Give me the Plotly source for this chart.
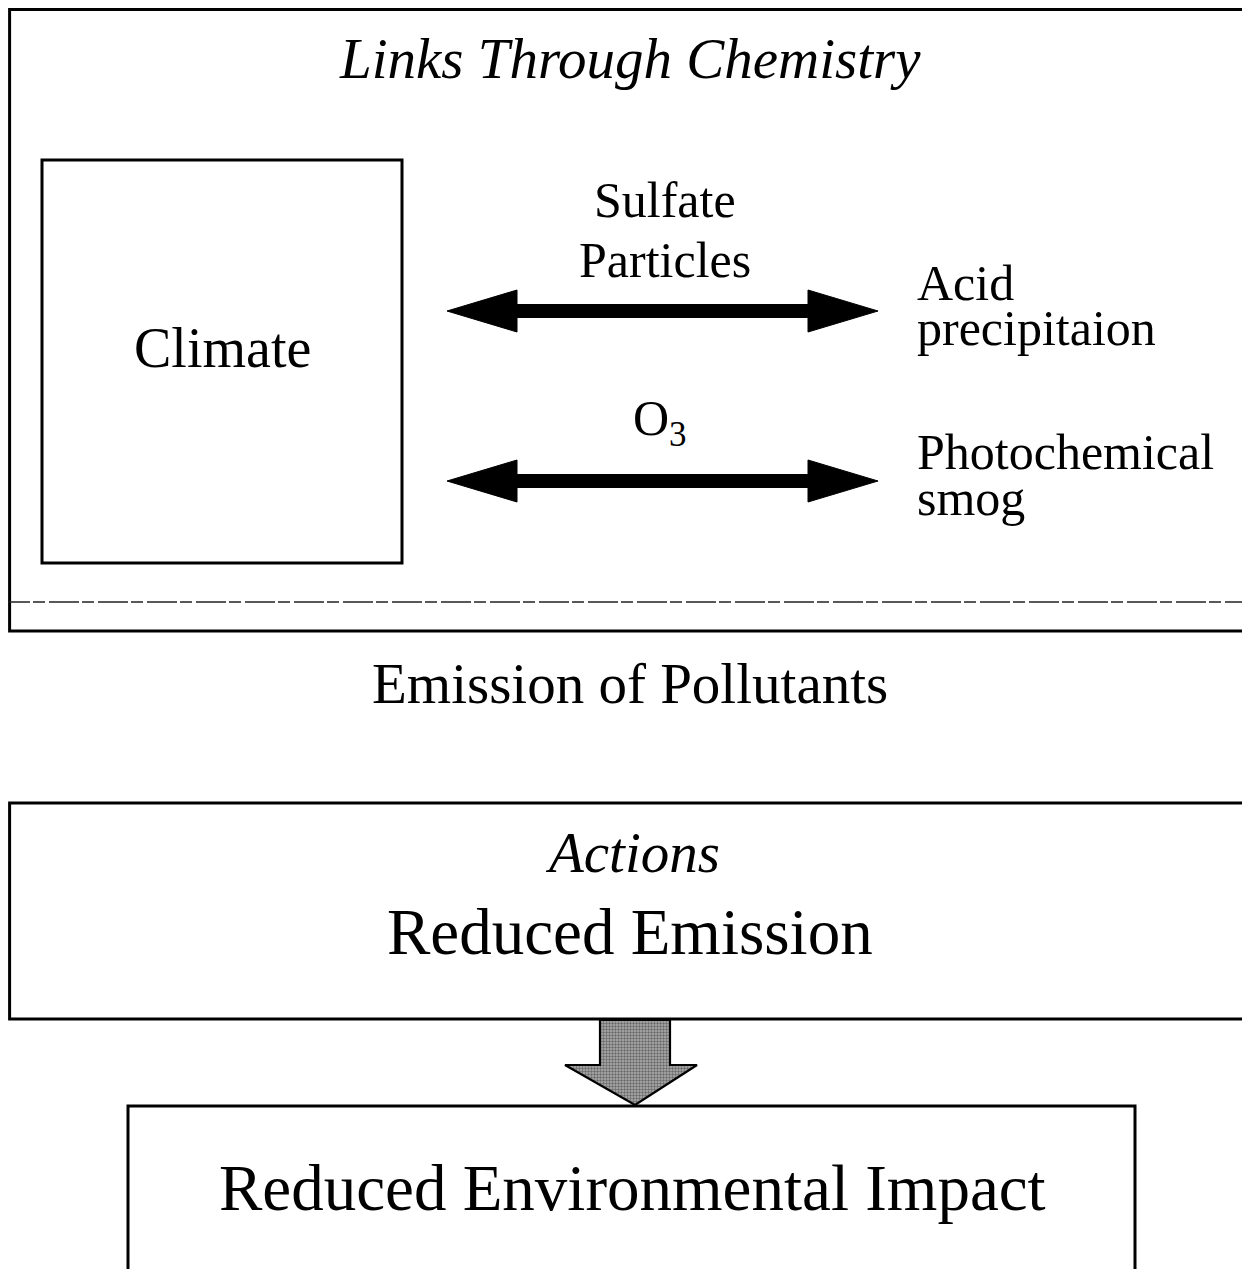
import plotly.graph_objects as go

# ---- text content ----
title_top = "Links Through Chemistry"
left_box_label = "Climate"
link_labels = ["Sulfate", "Particles"]
ozone_label = "O<sub>3</sub>"
effects_1 = ["Acid", "precipitaion"]
effects_2 = ["Photochemical", "smog"]
middle_label = "Emission of Pollutants"
actions_title = "Actions"
actions_label = "Reduced Emission"
result_label = "Reduced Environmental Impact"

W, H = 1250, 1269
OFF = 8  # compensate the page's default body margin
FONT = "Liberation Serif, Times New Roman, serif"

fig = go.Figure()

def box(x0, y0, x1, y1, w=3):
    fig.add_shape(type="rect", x0=x0, y0=y0, x1=x1, y1=y1, xref="x", yref="y",
                  line=dict(color="black", width=w), fillcolor="rgba(0,0,0,0)", layer="above")

def text(x, y, s, size, italic=False, anchor="center"):
    fig.add_annotation(x=x, y=y, xref="x", yref="y", text=s, showarrow=False,
                       xanchor=anchor, yanchor="middle",
                       font=dict(family=FONT, size=size, color="black",
                                 style="italic" if italic else "normal"))

def double_arrow(x0, x1, yc, L=70, Hh=21, t=6.5):
    p = (f"M {x0},{yc} L {x0+L},{yc-Hh} L {x0+L},{yc-t} L {x1-L},{yc-t} L {x1-L},{yc-Hh} "
         f"L {x1},{yc} L {x1-L},{yc+Hh} L {x1-L},{yc+t} L {x0+L},{yc+t} L {x0+L},{yc+Hh} Z")
    fig.add_shape(type="path", path=p, xref="x", yref="y", fillcolor="black",
                  line=dict(color="black", width=1))

# top section
box(9.6, 9.6, 1275, 631)
fig.add_shape(type="line", x0=0, x1=1260, y0=602, y1=602, xref="x", yref="y",
              line=dict(color="#222", width=1.3, dash="30px,3px,12px,4px"))
text(630, 58, title_top, 57, italic=True)
box(42, 160, 402, 563)
text(222, 348, left_box_label, 56)
text(665, 200, link_labels[0], 50)
text(665, 260, link_labels[1], 50)
double_arrow(447, 878, 311)
text(660, 422, ozone_label, 50)
double_arrow(447, 878, 481)
text(915, 283, effects_1[0], 50, anchor="left")
text(915, 328, effects_1[1], 50, anchor="left")
text(915, 452, effects_2[0], 50, anchor="left")
text(915, 498, effects_2[1], 50, anchor="left")

# middle
text(630, 683, middle_label, 57)

# actions box
box(9.6, 803, 1275, 1019)
text(632, 852, actions_title, 57, italic=True)
text(630, 932, actions_label, 65)

# grey down arrow
ax = [600, 670, 670, 697, 635, 565, 600, 600]
ay = [1020, 1020, 1065, 1065, 1105, 1065, 1065, 1020]
fig.add_trace(go.Scatter(x=ax, y=ay, mode="lines", fill="toself",
                         line=dict(color="black", width=2.2),
                         fillcolor="#999999",
                         fillpattern=dict(shape=".", fgcolor="#222222", bgcolor="#b0b0b0",
                                          size=3, solidity=0.5),
                         hoverinfo="skip", showlegend=False))

# result box
box(128, 1106, 1135, 1295)
text(632, 1188, result_label, 65)

fig.update_layout(
    width=W, height=H, margin=dict(l=0, r=0, t=0, b=0),
    paper_bgcolor="white", plot_bgcolor="white", showlegend=False,
    xaxis=dict(range=[OFF, W + OFF], visible=False, fixedrange=True),
    yaxis=dict(range=[H + OFF, OFF], visible=False, fixedrange=True),
)
fig.write_html("out.html")
